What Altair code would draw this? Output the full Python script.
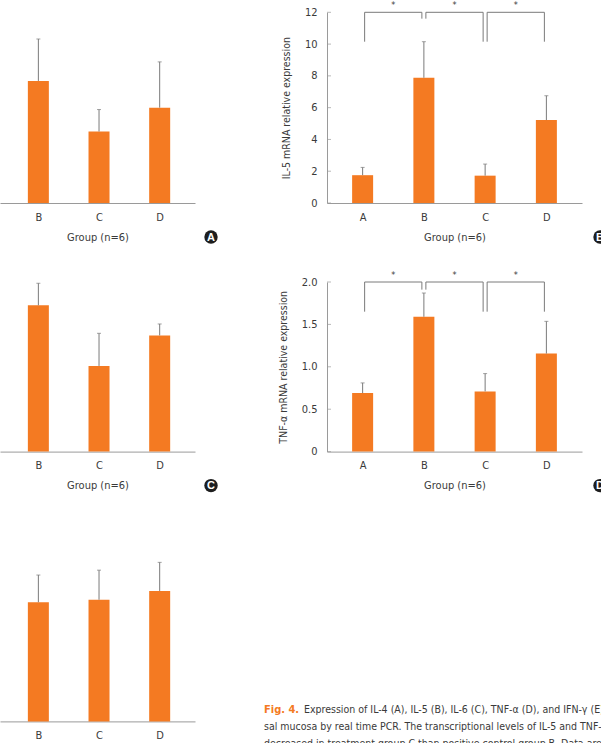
import altair as alt
import pandas as pd

FONT = "Liberation Sans Narrow, DejaVu Sans Condensed, Roboto, sans-serif"
ORANGE = "#F47A22"
ERR = "#7a7a7a"
AXIS = "#9a9a9a"
TEXT = "#3a3a3a"

GROUPS = ["A", "B", "C", "D"]

# Panel A: IL-4 (left column, cropped)
il4_groups = ["B", "C", "D"]
il4_mean = [1.28, 0.75, 1.00]
il4_sd = [0.44, 0.23, 0.48]

# Panel B: IL-5
il5_groups = ["A", "B", "C", "D"]
il5_mean = [1.75, 7.88, 1.72, 5.22]
il5_sd = [0.49, 2.27, 0.73, 1.53]
il5_ticks = [0, 2, 4, 6, 8, 10, 12]

# Panel C: IL-6 (left column, cropped)
il6_groups = ["B", "C", "D"]
il6_mean = [1.725, 1.01, 1.37]
il6_sd = [0.26, 0.385, 0.135]

# Panel D: TNF-alpha
tnf_groups = ["A", "B", "C", "D"]
tnf_mean = [0.69, 1.59, 0.71, 1.156]
tnf_sd = [0.12, 0.28, 0.21, 0.38]
tnf_ticks = [0, 0.5, 1.0, 1.5, 2.0]

# Panel E: IFN-gamma (left column, cropped)
ifn_groups = ["B", "C", "D"]
ifn_mean = [1.25, 1.276, 1.368]
ifn_sd = [0.285, 0.31, 0.30]

# significance brackets
br_left = ["A", "B", "C"]
br_right = ["B", "C", "D"]
br_stars = ["*", "*", "*"]
il5_br_top = 12
il5_leg_left = [10.15, 11.6, 10.15]
il5_leg_right = [11.6, 10.15, 10.15]
tnf_br_top = 2.0
tnf_leg_left = [1.65, 1.91, 1.65]
tnf_leg_right = [1.91, 1.65, 1.65]

caption_fig = "Fig. 4."
caption_l1 = "Expression of IL-4 (A), IL-5 (B), IL-6 (C), TNF-\u03b1 (D), and IFN-\u03b3 (E) in the na-"
caption_rest = [
    "sal mucosa by real time PCR. The transcriptional levels of IL-5 and TNF-\u03b1 were significantly",
    "decreased in treatment group C than positive control group B. Data are presented as mean\u00b1SD.",
]

XTITLE = "Group (n=6)"
LABEL_EXPR = "[" + ",".join("''" if i == 0 else "'%s'" % GROUPS[i - 1] for i in range(len(GROUPS) + 1)) + "][datum.value]"


def pos_of(g):
    return GROUPS.index(g) + 1


def panel(groups, mean, sd, ymax, height, width, xdomain, letter, letter_x,
          yticks=None, ytitle=None, ylabel_expr=None, brackets=None):
    df = pd.DataFrame({"group": groups, "mean": mean, "sd": sd})
    df["pos"] = [pos_of(g) for g in groups]
    df["top"] = df["mean"] + df["sd"]

    xscale = alt.Scale(domain=xdomain, nice=False, zero=False)
    yscale = alt.Scale(domain=[0, ymax], nice=False)
    xaxis = alt.Axis(values=[pos_of(g) for g in groups], labelExpr=LABEL_EXPR,
                     title=XTITLE, ticks=False, grid=False, labelPadding=8,
                     titlePadding=9, labelFlush=False)
    if yticks is not None:
        yargs = dict(values=yticks, title=ytitle, ticks=False, grid=False,
                     labelPadding=10, titlePadding=13, titleFontSize=10.5)
        if ylabel_expr:
            yargs["labelExpr"] = ylabel_expr
        yaxis = alt.Axis(**yargs)
    else:
        yaxis = None

    def X(f):
        return alt.X(f, type="quantitative", scale=xscale, axis=xaxis)

    def Y(f):
        return alt.Y(f, type="quantitative", scale=yscale, axis=yaxis)

    base = alt.Chart(df)
    bars = base.mark_bar(size=21, color=ORANGE).encode(x=X("pos"), y=Y("mean"))
    err = base.mark_rule(color=ERR, strokeWidth=1).encode(x=X("pos"), y=Y("mean"), y2="top")
    caps = base.mark_tick(orient="horizontal", size=4, thickness=1, color=ERR).encode(
        x=X("pos"), y=Y("top"))
    layers = [bars, err, caps]

    if yticks is not None:
        tdf = pd.DataFrame({"v": yticks})
        layers.append(alt.Chart(tdf).mark_tick(orient="horizontal", size=4, thickness=1,
                                               color=AXIS).encode(
            y=Y("v"), x=alt.value(2)))

    if brackets is not None:
        top, lbot, rbot = brackets
        bdf = pd.DataFrame({"l": [pos_of(g) for g in br_left],
                            "r": [pos_of(g) for g in br_right],
                            "top": [top] * len(br_left),
                            "lbot": lbot, "rbot": rbot, "star": br_stars})
        bdf["mid"] = (bdf["l"] + bdf["r"]) / 2
        bb = alt.Chart(bdf)
        layers += [
            bb.mark_rule(color=ERR, xOffset=2, x2Offset=-2).encode(x=X("l"), x2="r", y=Y("top")),
            bb.mark_rule(color=ERR, xOffset=2).encode(x=X("l"), y=Y("lbot"), y2="top"),
            bb.mark_rule(color=ERR, xOffset=-2).encode(x=X("r"), y=Y("rbot"), y2="top"),
            bb.mark_text(dy=-7, fontSize=9, color=TEXT, font=FONT).encode(
                x=X("mid"), y=Y("top"), text="star:N"),
        ]

    ldf = alt.Chart(pd.DataFrame({"letter": [letter]}))
    layers += [
        ldf.mark_circle(size=180, color="#1e1e1e", opacity=1).encode(
            x=alt.value(letter_x), y=alt.value(height + 34)),
        ldf.mark_text(color="white", fontWeight="bold", fontSize=11,
                      font="Liberation Sans, Arial, sans-serif").encode(
            x=alt.value(letter_x), y=alt.value(height + 34.5), text="letter:N"),
    ]
    return alt.layer(*layers).properties(width=width, height=height)


LW, RW = 195, 255
H1, H2, H3 = 190.7, 169.6, 190.7
LDOM = [1.45, 4.5]
RDOM = [0.5, 4.5]

pA = panel(il4_groups, il4_mean, il4_sd, 2.0, H1, LW, LDOM, "A", LW + 16)
pB = panel(il5_groups, il5_mean, il5_sd, 12, H1, RW, RDOM, "B", RW + 18,
           yticks=il5_ticks, ytitle="IL-5 mRNA relative expression",
           brackets=(il5_br_top, il5_leg_left, il5_leg_right))
pC = panel(il6_groups, il6_mean, il6_sd, 2.0, H2, LW, LDOM, "C", LW + 16)
pD = panel(tnf_groups, tnf_mean, tnf_sd, 2.0, H2, RW, RDOM, "D", RW + 18,
           yticks=tnf_ticks, ytitle="TNF-\u03b1 mRNA relative expression",
           ylabel_expr="datum.value == 0 ? '0' : format(datum.value, '.1f')",
           brackets=(tnf_br_top, tnf_leg_left, tnf_leg_right))
pE = panel(ifn_groups, ifn_mean, ifn_sd, 2.0, H3, LW, LDOM, "E", LW + 16)

CAP_SIZE = 10.5
cap = alt.Chart(pd.DataFrame({"fig": [caption_fig], "l1": [caption_l1]}))
cap_layers = [
    cap.mark_text(align="left", baseline="middle", fontSize=CAP_SIZE + 0.5, fontWeight="bold",
                  color=ORANGE, font=FONT).encode(
        x=alt.value(-63), y=alt.value(179), text="fig:N"),
    cap.mark_text(align="left", baseline="middle", fontSize=CAP_SIZE, color=TEXT,
                  font=FONT).encode(
        x=alt.value(-23), y=alt.value(179), text="l1:N"),
    cap.mark_text(align="left", baseline="middle", fontSize=CAP_SIZE, color=TEXT,
                  font=FONT, lineHeight=17).encode(
        x=alt.value(-63), y=alt.value(196), text=alt.value(caption_rest)),
]
pCap = alt.layer(*cap_layers).properties(width=RW, height=H3)

TOP = 12.3
chart = alt.concat(pA, pB, pC, pD, pE, pCap, columns=2,
                   spacing={"row": 78.7, "column": 132},
                   bounds="flush", align="each").properties(
    autosize=alt.AutoSizeParams(type="none"),
    padding={"left": 0, "top": TOP, "right": 601, "bottom": 743 - TOP}
).configure_view(stroke=None).configure_axis(
    labelFont=FONT, titleFont=FONT, labelFontSize=11, titleFontSize=11,
    labelColor=TEXT, titleColor=TEXT, domainColor=AXIS, titleFontWeight="normal"
)

chart.save("out.html", embed_options={"renderer": "svg", "actions": False})
